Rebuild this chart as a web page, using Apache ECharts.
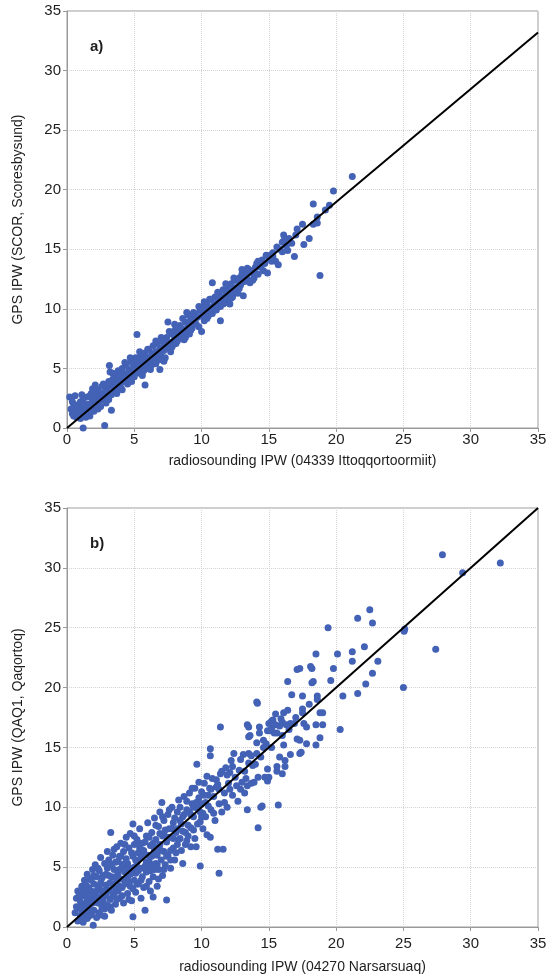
<!DOCTYPE html>
<html>
<head>
<meta charset="utf-8">
<script src="https://cdn.jsdelivr.net/npm/echarts@6/dist/echarts.min.js"></script>
<style>
html,body{margin:0;padding:0;background:#fff;}
#chart{width:560px;height:978px;}
</style>
</head>
<body>
<div id="chart"></div>
<script>
// ---------- data ----------
const axisTicks = [0,5,10,15,20,25,30,35];
const panelLabels = ['a)', 'b)'];
const xNames = ['radiosounding IPW (04339 Ittoqqortoormiit)', 'radiosounding IPW (04270 Narsarsuaq)'];
const yNames = ['GPS IPW (SCOR, Scoresbysund)', 'GPS IPW (QAQ1, Qaqortoq)'];

// panel a: radiosonde IPW vs GPS IPW (SCOR)
const pointsA = [
[0.2,2.6],[0.3,1.6],[0.4,1.2],[0.5,2.0],[0.6,1.5],[0.7,0.9],[0.8,1.9],[0.9,1.3],[1.0,2.2],[1.0,0.8],
[1.1,1.6],[1.2,0.0],[1.2,2.4],[1.3,1.1],[1.4,1.8],[1.5,2.6],[1.5,1.3],[1.6,2.0],[1.7,1.0],[1.8,2.9],
[1.8,1.6],[1.9,2.3],[2.0,1.4],[2.0,2.8],[2.1,1.9],[2.2,2.5],[2.3,1.6],[2.3,3.2],[2.4,2.2],[2.5,2.9],
[2.5,1.8],[2.6,3.5],[2.7,2.4],[2.8,0.2],[2.8,3.0],[2.9,2.1],[3.0,3.4],[3.0,2.6],
[3.1,3.9],[3.15,5.25],[3.2,4.7],[3.2,2.9],[3.3,1.5],[3.3,3.5],[3.4,4.1],[3.5,3.1],[3.5,3.8],[3.6,4.5],
[3.7,3.3],[3.7,4.0],[3.8,4.8],[3.9,3.6],[4.0,4.3],[4.0,3.4],[4.1,5.0],[4.2,3.9],[4.2,4.6],[4.3,4.0],
[4.4,5.3],[4.5,4.2],[4.5,3.7],[4.6,4.9],[4.7,4.4],[4.8,5.6],[4.8,3.9],[4.9,4.7],[5.0,5.2],[5.0,4.3],
[5.1,5.9],[5.2,7.85],[5.2,4.8],[5.3,5.4],[5.4,4.6],[5.5,6.1],[5.5,5.0],[5.6,5.6],[5.7,4.8],[5.8,3.6],
[5.8,6.3],[5.9,5.3],[6.0,5.9],[6.0,5.0],[6.1,6.6],[6.2,5.6],[6.3,6.2],[6.3,5.3],[6.4,6.9],[6.5,5.9],
[6.6,6.4],[6.6,5.4],[6.7,7.1],[6.8,6.1],[6.9,4.9],[6.9,6.7],[7.0,6.0],[7.1,7.3],[7.2,6.5],[7.3,7.0],
[7.3,5.9],[7.4,7.6],[7.5,8.9],[7.5,6.8],[7.6,7.2],[7.7,6.4],[7.8,7.9],[7.9,7.0],[8.0,7.5],[8.0,8.2],
[8.1,7.1],[8.2,8.0],[8.3,7.5],[8.4,8.6],[8.5,7.8],[8.6,8.3],[8.7,7.4],[8.8,8.9],[8.9,9.7],[8.9,8.1],
[9.0,8.6],[9.1,7.9],[9.2,9.2],[9.3,8.4],[9.4,8.9],[9.5,9.6],[9.6,8.7],[9.7,9.3],[9.8,8.5],[9.9,9.9],
[10.0,8.1],[10.0,9.4],[10.1,10.2],[10.2,9.0],[10.3,9.7],[10.4,10.5],[10.5,9.4],[10.6,10.0],[10.7,10.8],[10.8,12.2],
[10.8,9.6],[10.9,10.3],[11.0,11.0],[11.1,9.9],[11.2,10.6],[11.3,11.3],[11.4,9.0],[11.4,10.2],[11.5,10.9],[11.6,11.6],
[11.7,10.5],[11.8,11.2],[11.9,11.8],[12.0,10.8],[12.1,10.4],[12.1,11.5],[12.2,12.1],[12.3,11.0],[12.4,11.7],[12.5,12.4],
[12.6,11.8],[12.7,11.3],[12.8,12.6],[12.9,12.0],[13.0,12.9],[13.1,11.1],[13.1,13.2],[13.2,12.3],[13.3,13.0],[13.4,12.5],
[13.5,13.3],[13.6,12.2],[13.7,13.0],[13.8,13.2],[13.9,12.6],[14.0,13.5],[14.1,13.8],[14.2,12.9],[14.3,13.6],[14.5,14.1],
[14.6,13.2],[14.7,13.8],[14.9,13.0],[15.0,14.2],[15.1,14.5],[15.3,14.7],[15.3,14.4],[15.5,14.0],[15.7,13.7],[15.8,15.0],
[16.0,14.8],[16.1,16.2],[16.1,15.7],[16.3,15.3],[16.4,14.9],[16.7,15.5],[16.9,14.4],[17.1,16.7],[17.5,17.1],[17.6,15.4],
[18.0,15.9],[18.3,17.1],[18.3,18.8],[18.6,17.7],[18.6,17.2],[18.8,12.8],[19.2,18.3],[19.5,18.7],[19.8,19.9],[21.2,21.1],
[0.5,1.0],[0.9,2.0],[1.3,2.0],[1.6,1.6],[2.2,1.8],[2.6,2.8],[3.3,2.8],[3.6,3.6],[4.1,4.5],[4.4,4.4],
[4.9,5.4],[5.3,4.9],[5.7,5.7],[6.1,5.7],[6.5,6.3],[6.9,6.2],[7.2,7.0],[7.6,6.8],[8.3,8.2],[8.6,7.9],
[9.1,8.8],[9.5,9.0],[10.2,9.6],[10.5,10.1],[11.3,10.5],[11.9,11.2],[12.4,11.3],[13.0,12.4],
[0.4,2.2],[0.6,2.7],[0.7,1.8],[1.1,2.8],[1.4,0.9],[1.7,2.7],[1.9,3.3],[2.1,3.6],[2.4,2.9],[2.7,3.7],
[2.9,3.1],[3.1,2.4],[3.4,4.6],[3.7,2.9],[3.9,4.3],[4.1,3.2],[4.3,5.5],[4.6,4.1],[4.7,5.9],[5.0,4.7],
[5.2,5.7],[5.4,6.4],[5.6,4.4],[5.8,5.8],[6.0,6.6],[6.2,4.9],[6.4,6.1],[6.6,7.3],[6.8,5.7],[7.0,7.6],
[7.2,5.6],[7.4,6.7],[7.6,8.1],[7.8,6.8],[8.0,8.7],[8.2,7.3],[8.4,7.9],[8.6,9.2],[8.8,7.6],[9.0,9.5],
[9.2,8.2],[9.4,9.7],[9.6,9.4],[9.8,10.2],[10.0,9.9],[10.2,10.6],[10.4,9.2],[10.6,10.8],[10.8,10.1],[11.0,10.4],
[11.2,11.4],[11.4,11.0],[11.6,10.4],[11.8,12.1],[12.0,11.4],[12.2,10.9],[12.4,12.6],[12.6,12.4],[12.8,11.7],[13.0,13.3],
[13.2,12.8],[13.4,13.4],[13.6,13.1],[13.8,12.4],[14.0,13.0],[14.2,14.0],[14.4,13.5],[14.8,14.5],[15.2,14.0],[15.6,15.2],
[16.0,15.6],[16.5,15.9],[17.0,16.2],[2.0,2.0],[3.0,3.0],[4.0,3.9],[5.0,4.8],[6.0,5.6],[7.0,6.6],[8.0,7.7]
];
// panel b: radiosonde IPW vs GPS IPW (QAQ1)
const pointsB = [
[0.6,1.2],[0.7,2.4],[0.8,0.5],[0.8,3.0],[0.9,1.6],[1.0,2.1],[1.0,0.9],[1.1,3.4],[1.1,1.3],[1.2,2.6],
[1.2,0.4],[1.3,1.9],[1.3,3.9],[1.4,1.1],[1.4,2.9],[1.5,2.2],[1.5,4.4],[1.5,0.7],[1.6,3.3],[1.6,1.5],
[1.7,2.5],[1.7,4.0],[1.8,1.0],[1.8,3.0],[1.9,2.0],[1.9,4.8],[1.95,0.15],[2.0,3.6],[2.0,1.4],[2.1,2.7],
[2.1,5.2],[2.2,0.8],[2.2,4.2],[2.3,2.0],[2.3,3.2],[2.4,1.2],[2.4,4.7],[2.5,2.5],[2.5,5.8],[2.5,3.7],
[2.6,1.6],[2.6,3.0],[2.7,4.3],[2.7,2.1],[2.8,5.3],[2.8,0.9],[2.9,3.5],[2.9,2.6],[3.0,4.9],[3.0,1.8],[3.0,6.3],
[3.1,3.1],[3.1,5.6],[3.2,2.3],[3.25,7.9],[3.3,4.2],[3.3,1.4],[3.4,3.6],[3.4,6.0],[3.5,2.8],[3.5,4.8],
[3.6,5.4],[3.6,1.9],[3.7,3.9],[3.7,6.7],[3.8,3.0],[3.8,4.5],[3.9,5.9],[3.9,2.4],[4.0,4.0],[4.0,7.0],
[4.1,3.3],[4.1,5.2],[4.2,2.0],[4.2,6.3],[4.3,4.6],[4.3,3.6],[4.4,5.7],[4.4,7.5],[4.5,2.8],[4.5,4.2],
[4.6,6.6],[4.6,5.0],[4.7,3.4],[4.7,7.8],[4.8,4.7],[4.8,2.2],[4.9,0.85],[4.9,8.6],[4.9,5.9],[5.0,3.9],
[5.0,6.9],[5.1,4.5],[5.1,2.9],[5.2,5.4],[5.2,7.3],[5.3,3.6],[5.3,6.2],[5.4,4.9],[5.4,8.2],[5.5,2.4],
[5.5,5.8],[5.6,7.0],[5.6,4.2],[5.7,6.4],[5.7,3.3],[5.8,1.4],[5.8,5.1],[5.9,7.6],[5.9,4.6],[6.0,6.0],[6.0,8.7],
[6.1,3.8],[6.1,5.5],[6.2,6.8],[6.2,4.7],[6.3,7.9],[6.3,5.9],[6.4,2.5],[6.4,4.2],[6.5,6.4],[6.5,9.1],
[6.6,5.3],[6.6,7.3],[6.7,3.4],[6.7,6.0],[6.8,8.4],[6.8,4.8],[6.9,6.9],[6.9,9.6],[7.0,5.6],[7.05,10.4],
[7.1,7.6],[7.1,4.3],[7.2,6.3],[7.2,8.9],[7.3,5.2],[7.4,2.25],[7.4,7.1],[7.5,9.4],[7.5,6.0],[7.6,8.2],
[7.7,4.9],[7.7,7.5],[7.8,10.0],[7.9,6.6],[7.9,8.7],[8.0,5.6],[8.1,7.9],[8.2,9.6],[8.2,6.9],[8.3,10.6],
[8.4,7.4],[8.5,8.6],[8.6,5.3],[8.6,9.2],[8.7,10.9],[8.8,7.9],[8.9,9.8],[9.0,8.5],[9.1,11.2],[9.2,6.7],
[9.2,9.4],[9.3,10.3],[9.4,8.1],[9.5,11.6],[9.6,6.7],[9.65,13.6],[9.7,9.9],[9.8,10.8],[9.9,5.1],[9.9,8.8],
[10.0,11.3],[10.1,9.5],[10.2,12.0],[10.3,10.4],
[10.4,7.7],[10.5,11.0],[10.65,7.5],[10.65,14.3],[10.65,14.9],[10.7,9.8],[10.8,12.4],[10.9,10.9],[11.0,8.9],[11.1,11.7],
[11.2,6.5],[11.3,4.5],[11.3,10.3],[11.4,16.7],[11.4,12.8],[11.5,9.6],[11.6,6.5],[11.7,11.2],[11.8,13.3],[11.9,10.0],
[12.0,12.0],[12.2,13.9],[12.3,11.0],[12.4,14.5],[12.5,12.5],[12.7,10.5],[12.8,13.1],[13.0,12.1],[13.1,14.4],[13.2,11.2],
[13.3,12.4],[13.4,9.8],[13.4,16.9],[13.4,11.8],[13.5,14.5],[13.5,16.7],[13.5,15.9],[13.6,16.0],[13.5,13.7],[13.7,12.0],
[13.9,12.1],[14.1,15.4],[14.1,14.5],[14.1,18.8],[14.15,18.7],[14.2,8.3],[14.2,12.5],[14.3,16.7],[14.3,16.2],[14.4,10.0],
[14.5,10.1],[14.6,15.6],[14.6,15.0],[14.7,12.5],[14.9,16.4],[14.9,12.2],[14.9,13.2],[15.0,17.0],[15.0,12.5],[15.2,16.6],
[15.3,17.3],[15.5,17.8],[15.6,13.0],[15.6,13.4],[15.7,10.2],[15.8,14.2],[15.8,16.8],[16.0,12.8],[16.0,17.1],[16.1,15.2],
[16.1,17.9],[16.2,13.9],[16.2,13.4],
[15.2,17.2],[15.5,16.9],[15.9,17.4],[16.3,16.9],[15.1,16.4],[15.4,16.2],
[16.4,18.1],[16.4,20.5],[16.6,17.0],[16.6,14.4],[16.7,19.4],[16.9,17.0],[17.1,15.7],[17.1,21.5],[17.3,21.6],[17.3,14.5],
[17.3,15.6],[17.4,14.6],[17.5,19.3],[17.5,18.2],[17.5,17.9],[17.8,16.7],[17.8,15.3],[18.1,21.75],[18.2,20.4],[18.2,21.6],
[18.3,20.5],[18.5,22.8],[18.5,16.9],[18.5,15.2],[18.6,19.3],[18.6,19.0],[18.8,17.9],[18.8,15.8],[19.0,16.9],[19.0,17.9],
[19.4,25.0],[19.6,20.6],[19.8,21.6],[20.1,22.8],[20.3,16.5],[20.5,19.3],[21.2,23.0],[21.2,22.2],[21.6,25.8],[21.6,19.5],
[22.1,23.4],[22.2,20.3],[22.5,26.5],[22.7,25.4],[22.7,21.2],[23.1,22.2],[25.0,20.0],[25.05,24.7],[25.1,24.9],[27.4,23.2],
[27.9,31.1],[29.4,29.6],[32.2,30.4],
[1.0,1.7],[1.6,2.6],[2.0,2.4],[2.4,3.4],[2.8,2.6],[3.2,3.7],[3.6,3.2],[3.9,4.8],[4.3,5.3],[4.6,3.8],
[5.0,5.0],[5.4,6.6],[5.9,5.4],[6.3,6.8],[6.7,5.2],[7.2,7.7],[7.7,6.4],[8.4,8.9],[8.9,7.2],[9.4,10.0],
[10.0,9.2],[10.6,11.6],[11.2,11.9],[12.1,12.9],[12.9,11.5],[13.8,13.5],
[0.7,1.7],[0.9,2.6],[1.1,0.6],[1.2,3.1],[1.3,1.4],[1.4,3.5],[1.6,0.9],[1.7,1.9],[1.8,3.9],[1.9,1.3],
[2.0,4.3],[2.1,2.2],[2.2,3.0],[2.3,4.9],[2.4,2.0],[2.5,1.0],[2.6,4.1],[2.7,3.0],[2.8,1.5],[2.9,4.4],
[3.0,3.0],[3.1,4.3],[3.2,1.7],[3.3,5.2],[3.4,2.6],[3.5,6.5],[3.6,4.2],[3.7,2.3],[3.8,5.5],[3.9,3.4],
[4.0,5.9],[4.1,2.6],[4.2,4.9],[4.3,6.9],[4.4,3.9],[4.5,5.3],[4.6,2.3],[4.7,4.4],[4.8,6.2],[4.9,3.2],
[5.0,7.6],[5.1,5.6],[5.2,3.6],[5.3,4.7],[5.4,7.0],[5.5,3.9],[5.6,6.0],[5.7,4.9],[5.8,7.1],[5.9,3.4],
[6.0,5.0],[6.1,7.5],[6.2,3.0],[6.3,5.2],[6.4,7.0],[6.5,4.8],[6.6,8.5],[6.7,6.6],[6.8,4.0],[6.9,7.8],
[7.0,6.4],[7.1,9.2],[7.2,4.8],[7.3,8.1],[7.4,5.9],[7.5,7.5],[7.6,9.8],[7.7,5.6],[7.8,8.2],[7.9,7.4],
[8.0,9.1],[8.1,6.2],[8.2,8.2],[8.3,7.3],[8.4,10.0],[8.5,6.4],[8.6,8.0],[8.7,9.4],[8.8,6.9],[8.9,10.5],
[9.0,7.6],[9.1,9.6],[9.2,8.3],[9.3,11.6],[9.4,9.2],[9.5,7.4],[9.6,10.4],[9.7,8.6],[9.8,12.1],[9.9,9.6],
[10.0,10.3],[10.1,8.2],[10.2,11.0],[10.3,9.2],[10.4,12.6],[10.5,10.1],[10.7,11.5],[10.9,9.5],[11.1,12.3],[11.3,11.5],
[11.5,13.0],[11.7,10.4],[11.9,12.7],[12.1,11.5],[12.3,13.4],[12.6,11.8],[12.9,14.0],[13.2,13.0],[13.7,14.3],[14.0,13.6],
[14.4,14.2],[14.8,15.3],[15.2,15.0],[15.6,16.2],[16.0,16.0],[16.5,16.5],[17.0,17.5],[17.6,17.0],[18.0,18.6]
];
// fitted / reference lines
const lineA = [[0,0],[35,33.2]];
const lineB = [[0,0],[35,35]];

// ---------- chart ----------
const FONT = "'Liberation Sans', Arial, sans-serif";
const TXT = '#1e1e1e';
const grids = [
  {left:67, top:11, width:471, height:417, show:true, borderColor:'#9a9a9a', borderWidth:1},
  {left:67, top:508, width:471, height:419, show:true, borderColor:'#9a9a9a', borderWidth:1}
];
const labelMargins = [4, 9];
const nameGaps = [26, 33];
function xAx(i){
  return {gridIndex:i, type:'value', min:axisTicks[0], max:axisTicks[axisTicks.length-1], interval:axisTicks[1]-axisTicks[0],
    name:xNames[i], nameLocation:'middle', nameGap:nameGaps[i],
    nameTextStyle:{fontFamily:FONT, fontSize:14, color:TXT},
    axisLine:{show:true, lineStyle:{color:'#9a9a9a', width:1}},
    axisTick:{show:true, length:4, lineStyle:{color:'#9a9a9a'}},
    axisLabel:{fontFamily:FONT, fontSize:15, color:TXT, margin:labelMargins[i]},
    splitLine:{show:true, lineStyle:{color:'#d4d4d4', type:'dotted', width:1}}};
}
function yAx(i){
  return {gridIndex:i, type:'value', min:axisTicks[0], max:axisTicks[axisTicks.length-1], interval:axisTicks[1]-axisTicks[0],
    name:yNames[i], nameLocation:'middle', nameGap:42, nameRotate:90,
    nameTextStyle:{fontFamily:FONT, fontSize:14, color:TXT},
    axisLine:{show:true, lineStyle:{color:'#9a9a9a', width:1}},
    axisTick:{show:true, length:4, lineStyle:{color:'#9a9a9a'}},
    axisLabel:{fontFamily:FONT, fontSize:15, color:TXT, margin:6},
    splitLine:{show:true, lineStyle:{color:'#d4d4d4', type:'dotted', width:1}}};
}
const MARK = '#4362b6';
const chart = echarts.init(document.getElementById('chart'), null, {renderer:'canvas'});
chart.setOption({
  backgroundColor:'#ffffff',
  animation:false,
  title:[
    {text:panelLabels[0], left:85, top:34, textStyle:{fontFamily:FONT, fontSize:15, fontWeight:'bold', color:TXT}},
    {text:panelLabels[1], left:85, top:531, textStyle:{fontFamily:FONT, fontSize:15, fontWeight:'bold', color:TXT}}
  ],
  grid:grids,
  xAxis:[xAx(0), xAx(1)],
  yAxis:[yAx(0), yAx(1)],
  series:[
    {type:'scatter', xAxisIndex:0, yAxisIndex:0, data:pointsA, symbolSize:7, itemStyle:{color:MARK, opacity:1}},
    {type:'line', xAxisIndex:0, yAxisIndex:0, data:lineA, showSymbol:false, symbol:'none', lineStyle:{color:'#000', width:2}},
    {type:'scatter', xAxisIndex:1, yAxisIndex:1, data:pointsB, symbolSize:7, itemStyle:{color:MARK, opacity:1}},
    {type:'line', xAxisIndex:1, yAxisIndex:1, data:lineB, showSymbol:false, symbol:'none', lineStyle:{color:'#000', width:2}}
  ]
});
</script>
</body>
</html>
